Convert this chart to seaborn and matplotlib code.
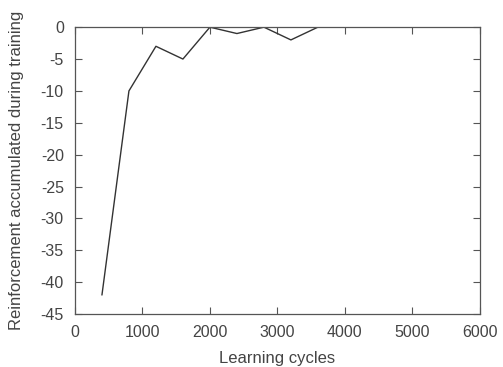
import matplotlib
matplotlib.use("Agg")
import matplotlib.pyplot as plt
import seaborn as sns
import pandas as pd

cycles = [400, 800, 1200, 1600, 2000, 2400, 2800, 3200, 3600]
reinforcement = [-42, -10, -3, -5, 0, -1, 0, -2, 0]
x_ticks = [0, 1000, 2000, 3000, 4000, 5000, 6000]
y_ticks = [0, -5, -10, -15, -20, -25, -30, -35, -40, -45]

sns.set_theme(style="ticks")
plt.rcParams['font.family'] = ['Liberation Sans', 'DejaVu Sans']

df = pd.DataFrame({"cycles": cycles, "reinforcement": reinforcement})

fig = plt.figure(figsize=(5.03, 3.67), dpi=100)
ax = fig.add_axes([0.149, 0.144, 0.805, 0.782])
sns.lineplot(data=df, x="cycles", y="reinforcement", ax=ax, color="#333333", linewidth=1.0)

ax.set_xlim(0, 6000)
ax.set_ylim(-45, 0)
ax.set_xticks(x_ticks)
ax.set_yticks(y_ticks)
ax.set_xticklabels([str(t) for t in x_ticks])
ax.set_yticklabels([str(t) for t in y_ticks])
ax.tick_params(direction="in", top=True, right=True, length=5, width=0.8,
               colors="#555555", labelcolor="#444444", labelsize=11.5, pad=8)
for s in ax.spines.values():
    s.set_visible(True)
    s.set_color("#555555")
    s.set_linewidth(0.9)
ax.set_xlabel("Learning cycles", fontsize=12, color="#444444")
ax.set_ylabel("Reinforcement accumulated during training", fontsize=12, color="#444444")
ax.xaxis.set_label_coords(0.5, -0.13)
ax.yaxis.set_label_coords(-0.127, 0.5)

fig.savefig("out.png", dpi=100)
